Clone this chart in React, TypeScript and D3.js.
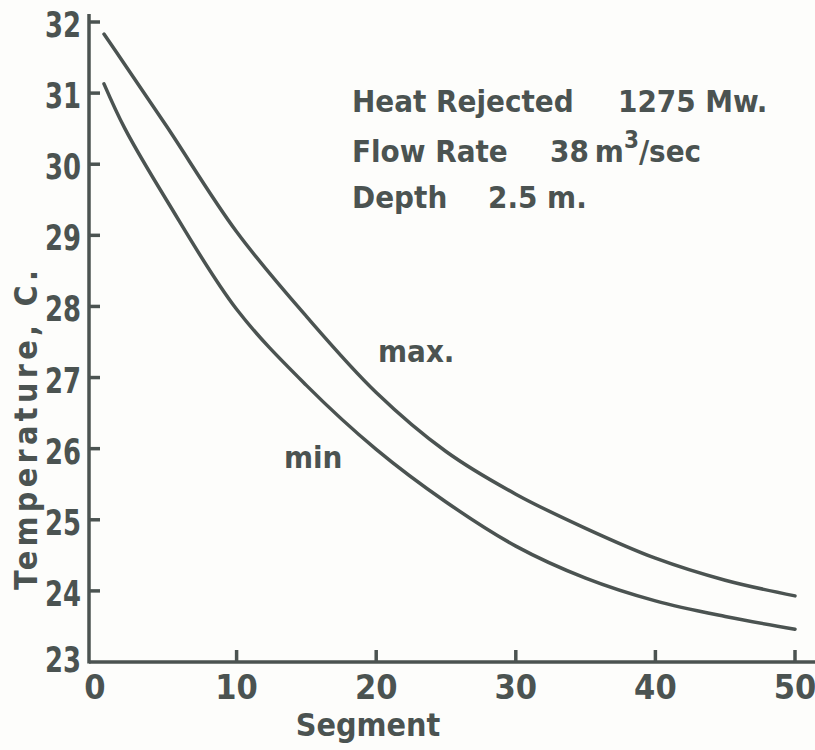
import { useEffect, useRef } from 'react';
import * as d3 from 'd3';

// values
const segments = [0.5, 2, 5, 10, 15, 20, 25, 30, 35, 40, 45, 50];
const maxTemp = [31.83, 31.4, 30.53, 29.05, 27.86, 26.79, 25.96, 25.36, 24.88, 24.46, 24.15, 23.93];
const minTemp = [31.13, 30.5, 29.49, 27.96, 26.89, 25.99, 25.25, 24.63, 24.18, 23.86, 23.64, 23.46];
const xTicks = [10, 20, 30, 40, 50];
const yTicks = [24, 25, 26, 27, 28, 29, 30, 31, 32];
const noteLines = ['Heat Rejected', 'Flow Rate', 'Depth'];

const INK = '#4b5351';
const FONT = "'DejaVu Sans', sans-serif";

export default function App() {
  const svgRef = useRef<SVGSVGElement | null>(null);

  useEffect(() => {
    if (!svgRef.current) return;
    const svg = d3.select(svgRef.current);
    svg.selectAll('*').remove();

    const width = 815;
    const axisX = 89;
    const axisY = 662;

    const x = d3.scaleLinear().domain([0, 50]).range([97, 795]);
    const y = d3.scaleLinear().domain([23, 32]).range([axisY, 22]);

    svg.append('rect').attr('width', width).attr('height', 750).attr('fill', '#fdfdfb');

    const txt = (sel: any, size: number) =>
      sel.attr('font-family', FONT)
        .attr('font-stretch', 'condensed')
        .attr('font-weight', 'bold')
        .attr('font-size', size)
        .attr('fill', INK);

    // axes lines
    svg.append('line')
      .attr('x1', axisX).attr('x2', axisX)
      .attr('y1', 14).attr('y2', axisY + 1.5)
      .attr('stroke', INK).attr('stroke-width', 3.5);
    svg.append('line')
      .attr('x1', axisX).attr('x2', width)
      .attr('y1', axisY).attr('y2', axisY)
      .attr('stroke', INK).attr('stroke-width', 3.5);

    // y ticks + labels
    svg.selectAll('.yt')
      .data(yTicks)
      .join('line')
      .attr('x1', axisX).attr('x2', axisX + 11)
      .attr('y1', (d) => y(d)).attr('y2', (d) => y(d))
      .attr('stroke', INK).attr('stroke-width', 3.5);

    txt(svg.selectAll('.yl')
      .data([23, ...yTicks])
      .join('text')
      .attr('x', 81)
      .attr('y', (d) => y(d) + (d === 23 ? 10 : 15))
      .attr('text-anchor', 'end'), 35)
      .attr('textLength', 36)
      .attr('lengthAdjust', 'spacingAndGlyphs')
      .text((d) => d);

    // x ticks + labels
    svg.selectAll('.xt')
      .data(xTicks)
      .join('line')
      .attr('x1', (d) => x(d)).attr('x2', (d) => x(d))
      .attr('y1', axisY).attr('y2', axisY - 12)
      .attr('stroke', INK).attr('stroke-width', 3.5);

    txt(svg.selectAll('.xl')
      .data([0, ...xTicks])
      .join('text')
      .attr('x', (d) => (d === 0 ? x(d) - 2 : x(d)))
      .attr('y', 699)
      .attr('text-anchor', 'middle'), 34)
      .text((d) => d);

    // axis titles
    txt(svg.append('text')
      .attr('x', 368)
      .attr('y', 736)
      .attr('text-anchor', 'middle'), 32)
      .text('Segment');

    txt(svg.append('text')
      .attr('transform', 'translate(37,430) rotate(-90)')
      .attr('text-anchor', 'middle'), 32)
      .attr('textLength', 320)
      .attr('lengthAdjust', 'spacing')
      .text('Temperature, C.');

    // curves
    const line = d3.line<number>()
      .x((_, i) => x(segments[i]))
      .y((d) => y(d))
      .curve(d3.curveCatmullRom.alpha(0.5));

    [maxTemp, minTemp].forEach((series) => {
      svg.append('path')
        .attr('d', line(series))
        .attr('fill', 'none')
        .attr('stroke', INK)
        .attr('stroke-width', 3.5)
        .attr('stroke-linecap', 'round');
    });

    // curve labels
    const lbl = (text: string, tx: number, ty: number) =>
      txt(svg.append('text').attr('x', tx).attr('y', ty), 31).text(text);

    lbl('max.', 378, 362);
    lbl('min', 284, 468);

    // info block
    const noteY = [112, 162, 208];
    noteLines.forEach((t, i) => lbl(t, 352, noteY[i]));
    lbl('1275  Mw.', 618, noteY[0]);
    const flow = lbl('38', 550, noteY[1]);
    flow.append('tspan').attr('dx', 6).text('m');
    flow.append('tspan').attr('dy', -14).attr('font-size', 24).text('3');
    flow.append('tspan').attr('dy', 14).text('/sec');
    lbl('2.5 m.', 488, noteY[2]);
  }, []);

  return (
    <svg
      ref={svgRef}
      width={815}
      height={750}
      style={{ position: 'absolute', left: 0, top: 0, display: 'block' }}
    />
  );
}
